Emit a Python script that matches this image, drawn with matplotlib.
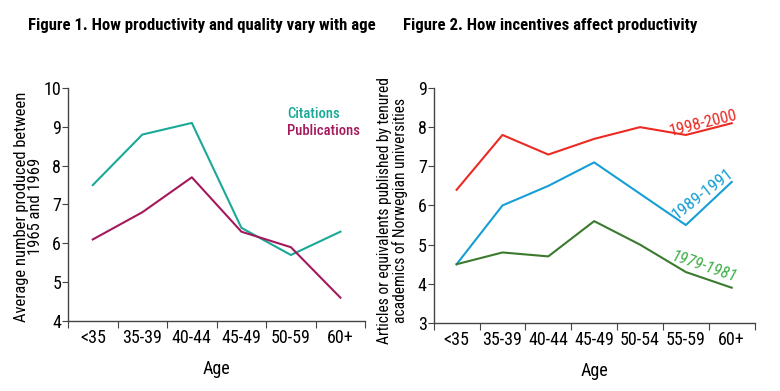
import matplotlib
matplotlib.use('Agg')
import matplotlib.pyplot as plt

plt.rcParams['font.family'] = ['Roboto Condensed', 'DejaVu Sans']

# figure 1 data
ages1 = ['<35', '35-39', '40-44', '45-49', '50-59', '60+']
citations = [7.5, 8.8, 9.1, 6.4, 5.7, 6.3]
publications = [6.1, 6.8, 7.7, 6.3, 5.9, 4.6]

# figure 2 data
ages2 = ['<35', '35-39', '40-44', '45-49', '50-54', '55-59', '60+']
p1998 = [6.4, 7.8, 7.3, 7.7, 8.0, 7.8, 8.1]
p1989 = [4.5, 6.0, 6.5, 7.1, 6.3, 5.5, 6.6]
p1979 = [4.5, 4.8, 4.7, 5.6, 5.0, 4.3, 3.9]

teal = '#19a996'
magenta = '#a3195b'
red = '#ec2a24'
blue = '#159fd4'
green = '#3b7a2e'
green_txt = '#3fae49'
axcol = '#444444'

fig = plt.figure(figsize=(7.8, 3.91), dpi=100)
ax1 = fig.add_axes([0.0872, 0.179, 0.381, 0.596])
ax2 = fig.add_axes([0.556, 0.174, 0.4115, 0.601])


def style(ax, n):
    for s in ['top', 'right']:
        ax.spines[s].set_visible(False)
    for s in ['left', 'bottom']:
        ax.spines[s].set_color(axcol)
        ax.spines[s].set_linewidth(1.0)
    ax.set_xlim(-0.5, n - 0.5)
    ax.set_xticks([i - 0.5 for i in range(n + 1)])
    ax.set_xticklabels([])
    ax.tick_params(axis='x', which='major', length=5, color=axcol, direction='out')
    ax.tick_params(axis='y', length=4, color=axcol, labelsize=13, pad=1)
    ax.tick_params(axis='x', which='minor', length=0, labelsize=13, pad=6)
    ax.set_xlabel('Age', fontsize=13, labelpad=9)


x1 = range(len(ages1))
ax1.plot(x1, citations, color=teal, lw=1.5)
ax1.plot(x1, publications, color=magenta, lw=1.5)
style(ax1, len(ages1))
ax1.set_xticks(list(x1), minor=True)
ax1.set_xticklabels(ages1, minor=True)
ax1.set_ylim(4, 10)
ax1.set_yticks(range(4, 11))
ax1.set_ylabel('Average number produced between\n1965 and 1969', fontsize=11.9,
               linespacing=0.95)
ax1.yaxis.set_label_coords(-0.084, 0.49)
# inline legend
ax1.text(3.92, 9.33, 'Citations', color=teal, fontsize=10.5, fontweight='medium', va='center')
ax1.text(3.92, 8.89, 'Publications', color=magenta, fontsize=10.5, fontweight='medium', va='center')

x2 = range(len(ages2))
ax2.plot(x2, p1998, color=red, lw=1.5)
ax2.plot(x2, p1989, color=blue, lw=1.5)
ax2.plot(x2, p1979, color=green, lw=1.5)
style(ax2, len(ages2))
ax2.set_xticks(list(x2), minor=True)
ax2.set_xticklabels(ages2, minor=True)
ax2.set_ylim(3, 9)
ax2.set_yticks(range(3, 10))
ax2.set_ylabel('Articles or equivalents published by tenured\nacademics of Norwegian universities',
               fontsize=11.2, linespacing=0.95)
ax2.yaxis.set_label_coords(-0.081, 0.48)
ax2.text(5.39, 8.1, '1998-2000', color=red, fontsize=12, rotation=14,
         ha='center', va='center', rotation_mode='anchor')
ax2.text(5.37, 6.29, '1989-1991', color=blue, fontsize=12.5, rotation=38,
         ha='center', va='center', rotation_mode='anchor')
ax2.text(5.39, 4.43, '1979-1981', color=green_txt, fontsize=12, rotation=-19,
         style='italic', ha='center', va='center', rotation_mode='anchor')

fig.text(0.036, 0.935, 'Figure 1. How productivity and quality vary with age',
         fontsize=12.1, fontweight='bold', va='center')
fig.text(0.517, 0.935, 'Figure 2. How incentives affect productivity',
         fontsize=12.1, fontweight='bold', va='center')

fig.savefig('out.png', dpi=100)
